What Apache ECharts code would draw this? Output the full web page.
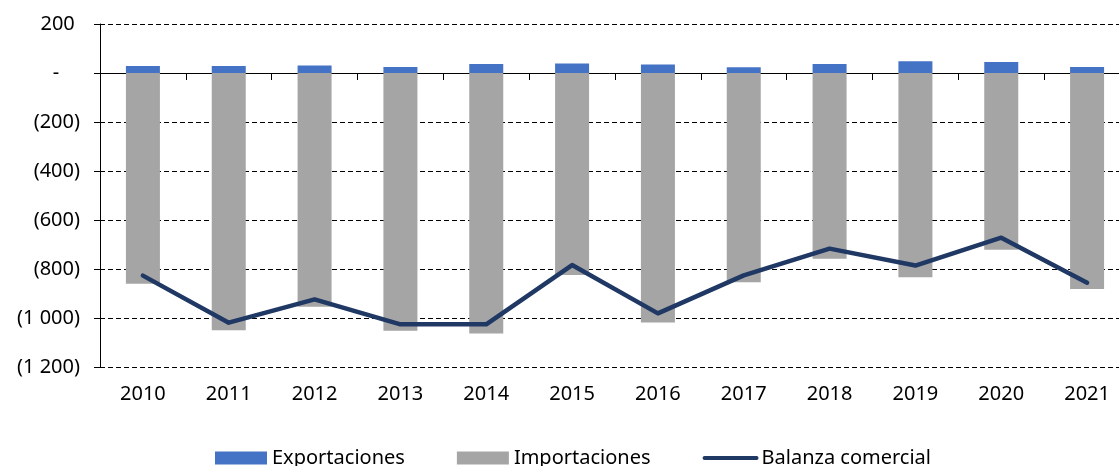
<!DOCTYPE html>
<html>
<head>
<meta charset="utf-8">
<script src="https://cdn.jsdelivr.net/npm/echarts@6/dist/echarts.min.js"></script>
<style>
  html, body { margin: 0; padding: 0; background: #fff; }
  #chart { width: 1119px; height: 466px; }
</style>
</head>
<body>
<div id="chart"></div>
<script>
// datos
const years = ["2010", "2011", "2012", "2013", "2014", "2015", "2016", "2017", "2018", "2019", "2020", "2021"];
const exportaciones = [29, 29, 31, 24, 37, 39, 35, 23, 37, 48, 45, 24];
const importaciones = [-860, -1050, -954, -1052, -1063, -824, -1018, -854, -758, -834, -721, -882];
const balanza = [-827, -1019, -924, -1026, -1026, -784, -981, -826, -717, -786, -672, -856];

const font = "Noto Sans";

// formato tipo contable: (1 000), "-" para cero
const fmt = (n) => String(n).replace(/\B(?=(\d{3})+(?!\d))/g, " ");
const yLabel = (v) => {
  if (v === 0) return "-    ";
  if (v < 0) return "(" + fmt(-v) + ")";
  return fmt(v) + " ";
};

const chart = echarts.init(document.getElementById("chart"));
chart.setOption({
  animation: false,
  textStyle: { fontFamily: font, color: "#000" },
  grid: [
    { left: 100, right: -11, top: 24, bottom: 99, outerBoundsMode: "none", containLabel: false },
    // franja fina sobre el cero: solo para la linea del eje y sus marcas
    { left: 100, right: -11, top: 73, height: 7, outerBoundsMode: "none", containLabel: false },
  ],
  legend: {
    left: 215,
    top: 448,
    padding: 0,
    itemWidth: 52,
    itemHeight: 13,
    itemGap: 52,
    textStyle: { fontFamily: font, fontSize: 20, color: "#000" },
    data: [
      { name: "Exportaciones", icon: "rect" },
      { name: "Importaciones", icon: "rect" },
      {
        name: "Balanza comercial",
        itemStyle: { opacity: 0 },
        lineStyle: { width: 4, cap: "round" },
      },
    ],
  },
  xAxis: [
    {
      type: "category",
      data: years,
      gridIndex: 0,
      axisLine: { show: false },
      axisTick: { show: false },
      axisLabel: { fontSize: 20, color: "#000", margin: 17 },
    },
    {
      type: "category",
      data: years,
      gridIndex: 1,
      position: "top",
      axisLine: { show: true, onZero: false, lineStyle: { color: "#000", width: 1 } },
      axisTick: { show: true, inside: true, length: 7, lineStyle: { color: "#000" } },
      axisLabel: { show: false },
    },
  ],
  yAxis: [
    {
      type: "value",
      gridIndex: 0,
      min: -1200,
      max: 200,
      interval: 200,
      axisLine: { show: true, lineStyle: { color: "#000", width: 1 } },
      axisTick: { show: true, length: 6, lineStyle: { color: "#000" } },
      axisLabel: { fontSize: 20, color: "#000", margin: 20, formatter: yLabel },
      splitLine: {
        show: true,
        lineStyle: { color: "#000", width: 1, type: [5, 3] },
      },
    },
    { type: "value", gridIndex: 1, show: false, min: 0, max: 1 },
  ],
  series: [
    {
      name: "Exportaciones",
      type: "bar",
      stack: "total",
      barWidth: 34,
      itemStyle: { color: "#4472C4" },
      data: exportaciones,
    },
    {
      name: "Importaciones",
      type: "bar",
      stack: "total",
      barWidth: 34,
      itemStyle: { color: "#A5A5A5" },
      data: importaciones,
    },
    {
      name: "Balanza comercial",
      type: "line",
      symbol: "none",
      z: 5,
      lineStyle: { color: "#203864", width: 4.5, cap: "round", join: "round" },
      itemStyle: { color: "#203864" },
      data: balanza,
    },
  ],
});
</script>
</body>
</html>
